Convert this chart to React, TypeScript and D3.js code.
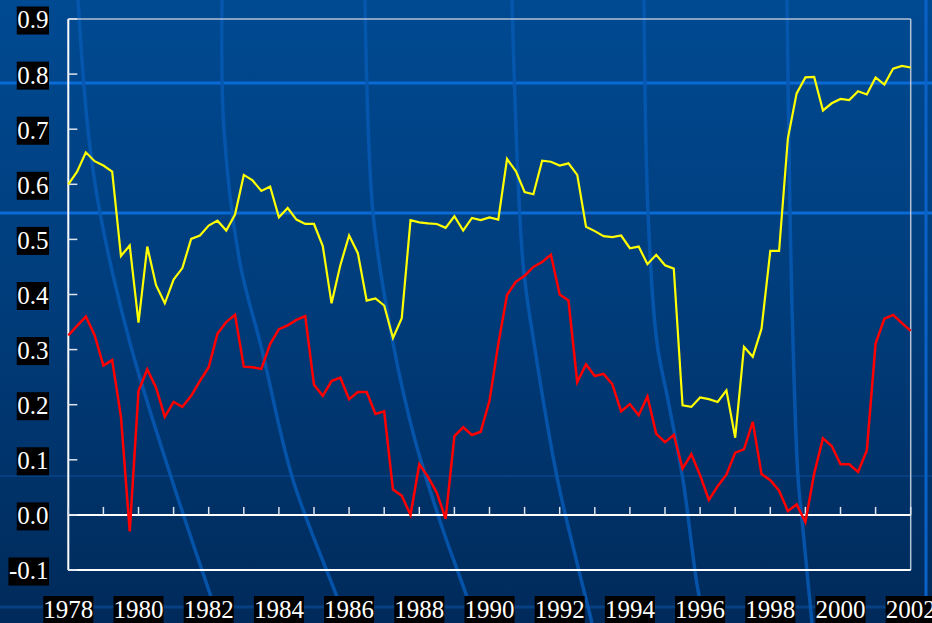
import React from "react";
import * as d3 from "d3";

// Quarterly observations, 1978Q1 .. 2002Q1
const startYear = 1978;
const yellowSeries: number[] = [
  0.600, 0.623, 0.658, 0.642, 0.634, 0.623, 0.470, 0.489, 0.349, 0.487,
  0.417, 0.384, 0.427, 0.448, 0.501, 0.507, 0.525, 0.534, 0.516, 0.545,
  0.617, 0.607, 0.588, 0.596, 0.540, 0.557, 0.536, 0.528, 0.528, 0.488,
  0.384, 0.453, 0.507, 0.475, 0.389, 0.393, 0.380, 0.321, 0.357, 0.535,
  0.531, 0.529, 0.528, 0.521, 0.542, 0.516, 0.539, 0.535, 0.540, 0.536,
  0.646, 0.624, 0.586, 0.582, 0.643, 0.641, 0.634, 0.638, 0.617, 0.523,
  0.515, 0.506, 0.504, 0.507, 0.484, 0.487, 0.455, 0.472, 0.453, 0.447,
  0.199, 0.196, 0.213, 0.210, 0.205, 0.226, 0.140, 0.305, 0.287, 0.338,
  0.479, 0.479, 0.683, 0.765, 0.794, 0.795, 0.734, 0.747, 0.755, 0.753,
  0.769, 0.763, 0.794, 0.781, 0.810, 0.815, 0.812,
];
const redSeries: number[] = [
  0.326, 0.343, 0.360, 0.326, 0.271, 0.281, 0.178, -0.030, 0.225, 0.264,
  0.231, 0.178, 0.205, 0.196, 0.216, 0.243, 0.268, 0.329, 0.350, 0.363,
  0.269, 0.268, 0.265, 0.310, 0.337, 0.344, 0.354, 0.361, 0.236, 0.216,
  0.243, 0.249, 0.210, 0.223, 0.223, 0.183, 0.188, 0.046, 0.035, 0.000,
  0.092, 0.069, 0.040, -0.007, 0.143, 0.159, 0.145, 0.151, 0.207, 0.310,
  0.399, 0.423, 0.434, 0.450, 0.459, 0.472, 0.400, 0.389, 0.241, 0.273,
  0.252, 0.256, 0.237, 0.188, 0.201, 0.181, 0.215, 0.147, 0.132, 0.145,
  0.084, 0.110, 0.072, 0.027, 0.052, 0.073, 0.113, 0.119, 0.169, 0.074,
  0.063, 0.044, 0.007, 0.019, -0.013, 0.075, 0.139, 0.125, 0.092, 0.092,
  0.078, 0.117, 0.311, 0.356, 0.363, 0.348, 0.334,
];
const yTickValues: number[] = [-0.1, 0, 0.1, 0.2, 0.3, 0.4, 0.5, 0.6, 0.7, 0.8, 0.9];
const yTickLabels: string[] = ["-0.1", "0.0", "0.1", "0.2", "0.3", "0.4", "0.5", "0.6", "0.7", "0.8", "0.9"];
const xTickYears: number[] = d3.range(1978, 2003);
const xLabelYears: number[] = [1978, 1980, 1982, 1984, 1986, 1988, 1990, 1992, 1994, 1996, 1998, 2000, 2002];

// Decorative background "meridian" curves (template artwork)
const decoCurves: [number, number][][] = [
  [[78, 0], [88, 130], [100, 213], [130, 343], [172, 480], [220, 623]],
  [[222, 0], [224, 130], [240, 263], [262, 350], [293, 480], [337, 597], [346, 623]],
  [[365, 0], [373, 213], [393, 343], [415, 440], [443, 530], [467, 597], [475, 623]],
  [[512, 0], [523, 263], [534, 343], [557, 477], [569, 530], [592, 623]],
  [[644, 0], [648, 213], [657, 343], [668, 400], [683, 480], [698, 590], [706, 623]],
  [[787, 0], [790, 213], [793, 343], [798, 477], [803, 530], [812, 623]],
];

const W = 932;
const H = 623;
const FONT = "'Liberation Serif', 'Times New Roman', serif";

function labelWidth(s: string, size: number): number {
  let w = 0;
  for (const c of s) {
    if (c === ".") w += size * 0.25;
    else if (c === "-") w += size * 0.333;
    else w += size * 0.5;
  }
  return w;
}

export default function App() {
  const x = d3.scaleLinear().domain([1978, 2002]).range([68.3, 910.7]);
  const y = d3.scaleLinear().domain([-0.1, 0.9]).range([570, 19]);

  const line = d3
    .line<number>()
    .x((_, i) => x(startYear + i / 4))
    .y((d) => y(d));

  const deco = d3
    .line<[number, number]>()
    .x((d) => d[0])
    .y((d) => d[1])
    .curve(d3.curveCatmullRom.alpha(0.5));

  const left = x(1978);
  const right = x(2002);
  const top = y(0.9);
  const bottom = y(-0.1);
  const zero = y(0);
  const fs = 25;

  return (
    <svg
      width={W}
      height={H}
      style={{ position: "absolute", left: 0, top: 0, display: "block" }}
      fontFamily={FONT}
    >
      <defs>
        <linearGradient id="bg" x1="0" y1="0" x2="0" y2="1">
          <stop offset="0" stopColor="#004a92" />
          <stop offset="0.5" stopColor="#003c7a" />
          <stop offset="1" stopColor="#002a5a" />
        </linearGradient>
      </defs>
      <rect x={0} y={0} width={W} height={H} fill="url(#bg)" />

      {/* background artwork */}
      <line x1={0} x2={W} y1={83} y2={83} stroke="#0a6ad6" strokeWidth={3} />
      <line x1={0} x2={W} y1={213} y2={213} stroke="#0a6ad6" strokeWidth={3} />
      <line x1={0} x2={W} y1={476} y2={476} stroke="#0a4a92" strokeWidth={2} opacity={0.6} />
      <line x1={0} x2={W} y1={607} y2={607} stroke="#0a4a92" strokeWidth={3} opacity={0.7} />
      <line x1={926} x2={926} y1={0} y2={H} stroke="#0a62c8" strokeWidth={3} />
      {decoCurves.map((c, i) => (
        <path key={i} d={deco(c) || ""} fill="none" stroke="#0558b0" strokeWidth={3.5} opacity={0.9} />
      ))}

      {/* frame */}
      <line x1={left} x2={right} y1={top} y2={top} stroke="#b4c2d6" strokeWidth={1.5} />
      <line x1={right} x2={right} y1={top} y2={bottom} stroke="#b4c2d6" strokeWidth={1.5} />
      <line x1={left} x2={right} y1={bottom} y2={bottom} stroke="#ffffff" strokeWidth={2} />
      <line x1={left} x2={left} y1={top} y2={bottom} stroke="#ffffff" strokeWidth={2} />
      <line x1={left} x2={right} y1={zero} y2={zero} stroke="#ffffff" strokeWidth={2} />

      {/* y ticks */}
      {yTickValues.map((v, i) => (
        <line key={"yt" + i} x1={left} x2={left + 9} y1={y(v)} y2={y(v)} stroke="#dde4ee" strokeWidth={1.5} />
      ))}
      {/* x ticks on the zero line */}
      {xTickYears.map((yr) => (
        <line key={"xt" + yr} x1={x(yr)} x2={x(yr)} y1={zero} y2={zero - 8} stroke="#dde4ee" strokeWidth={1.5} />
      ))}

      {/* series */}
      <path d={line(redSeries) || ""} fill="none" stroke="#ff0000" strokeWidth={2.5} strokeLinejoin="miter" />
      <path d={line(yellowSeries) || ""} fill="none" stroke="#ffff00" strokeWidth={2.2} strokeLinejoin="miter" />

      {/* y labels */}
      {yTickValues.map((v, i) => {
        const s = yTickLabels[i];
        const w = labelWidth(s, fs) + 1;
        const cy = y(v);
        return (
          <g key={"yl" + i}>
            <rect x={49 - w} y={cy - 12.5} width={w} height={28} fill="#000000" />
            <text x={48.5} y={cy + 9.4} fill="#ffffff" fontSize={fs} textAnchor="end">
              {s}
            </text>
          </g>
        );
      })}

      {/* x labels */}
      {xLabelYears.map((yr) => {
        const s = String(yr);
        const w = labelWidth(s, fs);
        const cx = x(yr);
        return (
          <g key={"xl" + yr}>
            <rect x={cx - w / 2} y={596} width={w} height={30} fill="#000000" />
            <text x={cx} y={617.7} fill="#ffffff" fontSize={fs} textAnchor="middle">
              {s}
            </text>
          </g>
        );
      })}
    </svg>
  );
}
